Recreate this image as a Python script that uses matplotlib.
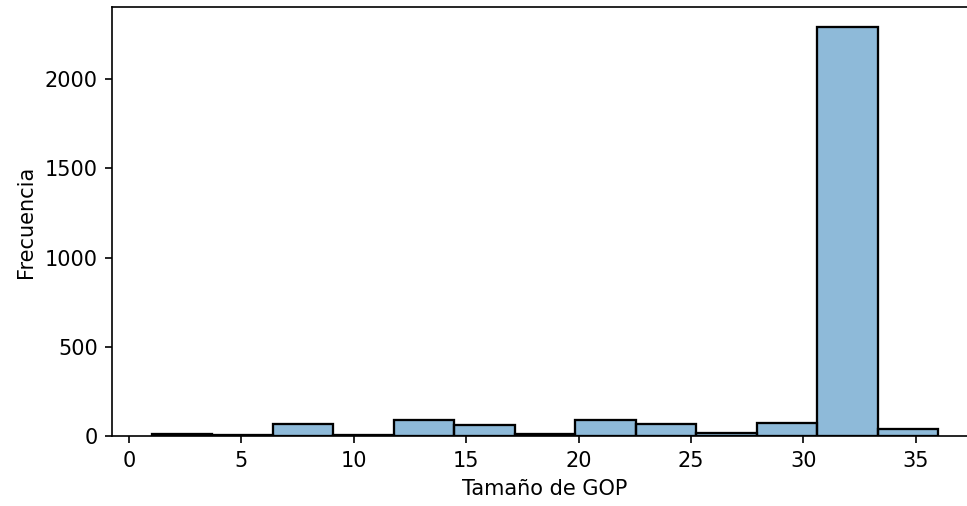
import matplotlib
matplotlib.use("Agg")
import matplotlib.pyplot as plt
import numpy as np


# GOP size histogram: 13 bins spanning 1..36
bin_start, bin_stop, n_bins = 1, 36, 13
counts = [15, 10, 69, 10, 91, 63, 12, 90, 67, 20, 73, 2291, 41]

edges = np.linspace(bin_start, bin_stop, n_bins + 1)

fig = plt.figure(figsize=(967 / 150, 506 / 150), dpi=150)
ax = fig.add_axes([0.1161, 0.1377, 0.8947, 0.8492])

ax.hist(edges[:-1], bins=edges, weights=counts,
        facecolor=(31 / 255, 119 / 255, 180 / 255, 0.5),
        edgecolor="black", linewidth=1.1)

ax.set_xlabel("Tamaño de GOP")
ax.set_ylabel("Frecuencia")
ax.set_xticks([0, 5, 10, 15, 20, 25, 30, 35])
ax.set_yticks([0, 500, 1000, 1500, 2000])
ax.margins(x=0.05, y=0.05)
ax.set_ylim(0, max(counts) * 1.05)

fig.savefig("out.png", dpi=150)
